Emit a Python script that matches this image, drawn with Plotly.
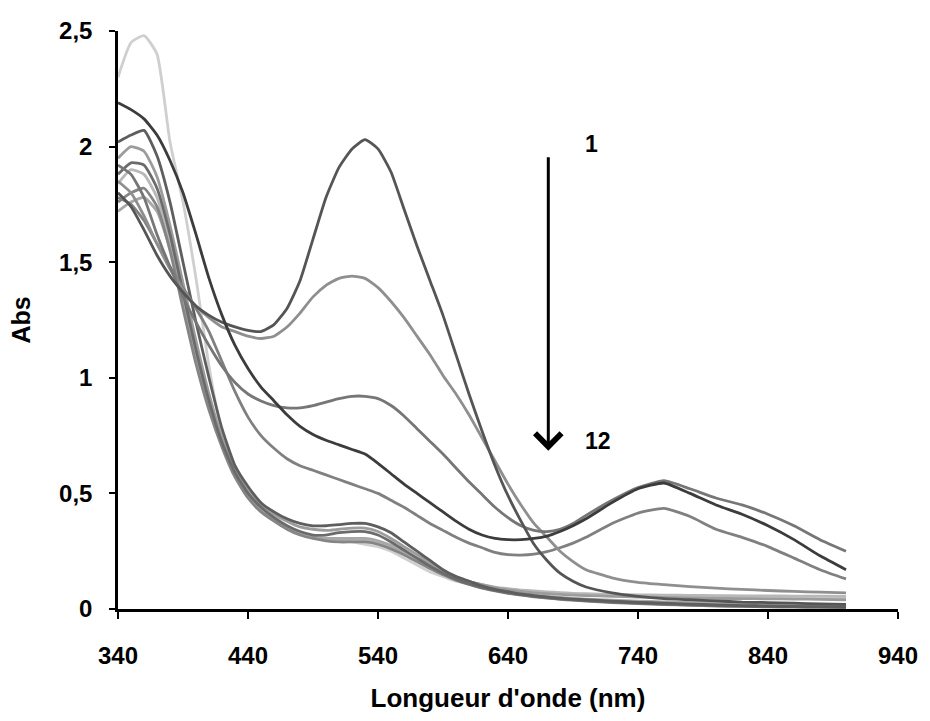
import plotly.graph_objects as go

# Wavelength grid (nm)
wavelength = [340, 350, 360, 370, 380, 390, 400, 410, 420, 430, 440, 450, 460, 470,
              480, 490, 500, 510, 520, 530, 540, 550, 560, 570, 580, 590, 600, 610,
              620, 630, 640, 650, 660, 670, 680, 690, 700, 720, 740, 760, 780, 800,
              820, 840, 860, 880, 900]

# Absorbance spectra, one list per recording
spec_d = [2.19, 2.16, 2.12, 2.05, 1.94, 1.80, 1.62, 1.43, 1.27, 1.14, 1.04, 0.96, 0.90, 0.84,
          0.79, 0.755, 0.73, 0.71, 0.69, 0.67, 0.63, 0.585, 0.54, 0.50, 0.46, 0.42, 0.38, 0.345,
          0.32, 0.305, 0.30, 0.30, 0.305, 0.315, 0.335, 0.36, 0.39, 0.46, 0.52, 0.545, 0.50, 0.45,
          0.41, 0.36, 0.30, 0.23, 0.17]
spec_a = [1.80, 1.74, 1.64, 1.53, 1.44, 1.37, 1.31, 1.27, 1.24, 1.22, 1.205, 1.20, 1.23, 1.30,
          1.42, 1.60, 1.78, 1.91, 1.99, 2.03, 1.99, 1.89, 1.73, 1.57, 1.42, 1.27, 1.10, 0.93,
          0.77, 0.62, 0.49, 0.38, 0.28, 0.21, 0.155, 0.12, 0.095, 0.07, 0.055, 0.045, 0.04, 0.035,
          0.03, 0.028, 0.025, 0.022, 0.02]
spec_b = [1.85, 1.80, 1.70, 1.58, 1.47, 1.38, 1.31, 1.26, 1.22, 1.20, 1.18, 1.17, 1.18, 1.22,
          1.28, 1.35, 1.40, 1.43, 1.44, 1.43, 1.39, 1.33, 1.26, 1.18, 1.10, 1.01, 0.93, 0.84,
          0.74, 0.64, 0.54, 0.45, 0.37, 0.31, 0.25, 0.205, 0.17, 0.135, 0.115, 0.105, 0.097, 0.09,
          0.085, 0.08, 0.076, 0.073, 0.07]
spec_c = [1.92, 1.88, 1.78, 1.62, 1.48, 1.35, 1.24, 1.14, 1.05, 0.98, 0.93, 0.90, 0.88, 0.87,
          0.87, 0.88, 0.895, 0.91, 0.92, 0.92, 0.91, 0.88, 0.835, 0.78, 0.725, 0.67, 0.61, 0.55,
          0.495, 0.44, 0.395, 0.36, 0.34, 0.335, 0.345, 0.37, 0.405, 0.47, 0.525, 0.555, 0.52, 0.48,
          0.45, 0.41, 0.36, 0.30, 0.25]
spec_e = [1.78, 1.75, 1.68, 1.58, 1.48, 1.39, 1.30, 1.20, 1.07, 0.94, 0.83, 0.75, 0.695, 0.65,
          0.62, 0.60, 0.58, 0.56, 0.54, 0.52, 0.50, 0.47, 0.44, 0.405, 0.37, 0.34, 0.31, 0.285,
          0.265, 0.245, 0.235, 0.233, 0.237, 0.248, 0.265, 0.285, 0.31, 0.37, 0.415, 0.435, 0.40, 0.345,
          0.31, 0.27, 0.22, 0.17, 0.13]
spec_l = [2.30, 2.45, 2.48, 2.40, 2.02, 1.76, 1.43, 1.05, 0.76, 0.60, 0.51, 0.45, 0.40, 0.36,
          0.33, 0.31, 0.30, 0.295, 0.29, 0.28, 0.27, 0.25, 0.22, 0.19, 0.16, 0.14, 0.12, 0.11,
          0.10, 0.09, 0.085, 0.08, 0.075, 0.07, 0.068, 0.065, 0.063, 0.06, 0.058, 0.056, 0.055, 0.054,
          0.053, 0.052, 0.051, 0.05, 0.05]
spec_g1 = [2.02, 2.05, 2.07, 1.96, 1.76, 1.50, 1.24, 1.00, 0.78, 0.62, 0.53, 0.46, 0.42, 0.39,
           0.37, 0.36, 0.36, 0.365, 0.37, 0.37, 0.355, 0.33, 0.29, 0.25, 0.21, 0.17, 0.14, 0.12,
           0.10, 0.085, 0.075, 0.065, 0.058, 0.052, 0.047, 0.043, 0.04, 0.034, 0.029, 0.025, 0.021, 0.018,
           0.015, 0.013, 0.011, 0.01, 0.009]
spec_g2 = [1.95, 2.00, 1.98, 1.87, 1.66, 1.41, 1.16, 0.93, 0.74, 0.60, 0.51, 0.45, 0.41, 0.38,
           0.355, 0.345, 0.34, 0.345, 0.35, 0.35, 0.335, 0.305, 0.27, 0.235, 0.20, 0.165, 0.14, 0.12,
           0.105, 0.092, 0.083, 0.076, 0.07, 0.066, 0.063, 0.06, 0.058, 0.055, 0.052, 0.05, 0.048, 0.046,
           0.045, 0.044, 0.043, 0.042, 0.04]
spec_g3 = [1.88, 1.93, 1.92, 1.82, 1.62, 1.37, 1.12, 0.90, 0.72, 0.59, 0.50, 0.44, 0.395, 0.36,
           0.335, 0.32, 0.32, 0.33, 0.335, 0.335, 0.32, 0.29, 0.255, 0.22, 0.185, 0.155, 0.128, 0.108,
           0.092, 0.08, 0.07, 0.062, 0.055, 0.049, 0.044, 0.04, 0.036, 0.03, 0.025, 0.021, 0.018, 0.015,
           0.013, 0.011, 0.01, 0.009, 0.008]
spec_g4 = [1.84, 1.90, 1.88, 1.78, 1.58, 1.34, 1.09, 0.88, 0.71, 0.58, 0.49, 0.43, 0.385, 0.35,
           0.325, 0.31, 0.30, 0.30, 0.30, 0.30, 0.29, 0.27, 0.245, 0.215, 0.185, 0.16, 0.135, 0.118,
           0.105, 0.095, 0.088, 0.082, 0.078, 0.074, 0.071, 0.068, 0.066, 0.063, 0.061, 0.06, 0.059, 0.058,
           0.057, 0.057, 0.056, 0.056, 0.055]
spec_g5 = [1.76, 1.80, 1.82, 1.74, 1.55, 1.30, 1.06, 0.86, 0.70, 0.57, 0.48, 0.42, 0.38, 0.345,
           0.32, 0.305, 0.295, 0.29, 0.29, 0.29, 0.28, 0.26, 0.235, 0.205, 0.175, 0.148, 0.125, 0.106,
           0.09, 0.078, 0.068, 0.06, 0.053, 0.047, 0.042, 0.038, 0.034, 0.028, 0.023, 0.019, 0.016, 0.013,
           0.011, 0.009, 0.008, 0.007, 0.006]
spec_g6 = [1.72, 1.76, 1.78, 1.72, 1.56, 1.33, 1.09, 0.88, 0.71, 0.58, 0.49, 0.43, 0.385, 0.35,
           0.325, 0.31, 0.305, 0.305, 0.305, 0.305, 0.295, 0.275, 0.25, 0.22, 0.19, 0.16, 0.135, 0.115,
           0.098, 0.085, 0.075, 0.067, 0.06, 0.054, 0.05, 0.046, 0.043, 0.038, 0.034, 0.031, 0.028, 0.026,
           0.024, 0.022, 0.021, 0.02, 0.019]

spectra = [spec_l, spec_g4, spec_g6, spec_g2, spec_g5, spec_g3, spec_g1,
           spec_e, spec_b, spec_c, spec_a, spec_d]
line_colors = ["#cfcfcf", "#b8b8b8", "#a8a8a8", "#9c9c9c", "#858585", "#6b6b6b", "#5e5e5e",
               "#808080", "#8f8f8f", "#767676", "#555555", "#3c3c3c"]

x_ticks = [340, 440, 540, 640, 740, 840, 940]
y_ticks = [0, 0.5, 1, 1.5, 2, 2.5]
y_tick_text = ["0", "0,5", "1", "1,5", "2", "2,5"]

FONT = "Liberation Sans, Arial, sans-serif"

fig = go.Figure()
for values, color in zip(spectra, line_colors):
    fig.add_trace(go.Scatter(
        x=wavelength, y=values, mode="lines",
        line=dict(color=color, width=2.8, shape="spline", smoothing=0.5),
        showlegend=False, hoverinfo="skip",
    ))

# Downward arrow showing the evolution from spectrum 1 to spectrum 12
fig.add_annotation(x=671, y=0.685, ax=671, ay=1.96, xref="x", yref="y", axref="x", ayref="y",
                   text="", showarrow=True, arrowhead=4, arrowsize=1.7, arrowwidth=3,
                   arrowcolor="black")
fig.add_annotation(x=704, y=2.01, xref="x", yref="y", text="<b>1</b>", showarrow=False,
                   font=dict(family=FONT, size=23, color="black"))
fig.add_annotation(x=709, y=0.725, xref="x", yref="y", text="<b>12</b>", showarrow=False,
                   font=dict(family=FONT, size=23, color="black"))

fig.update_layout(
    width=930, height=721,
    margin=dict(l=118, r=24, t=31, b=108),
    paper_bgcolor="white", plot_bgcolor="white",
    font=dict(family=FONT, color="black"),
)
fig.update_xaxes(
    range=[340, 940], tickvals=x_ticks, showgrid=False, zeroline=False,
    showline=True, linecolor="black", linewidth=2.5,
    ticks="outside", ticklen=7, tickwidth=2, tickcolor="black",
    ticklabelstandoff=16,
    tickfont=dict(family=FONT, size=24, color="black", weight="bold"),
    title=dict(text="<b>Longueur d'onde (nm)</b>", standoff=22,
               font=dict(family=FONT, size=26, color="black")),
)
fig.update_yaxes(
    range=[0, 2.5], tickvals=y_ticks, ticktext=y_tick_text, showgrid=False, zeroline=False,
    showline=True, linecolor="black", linewidth=2.5,
    ticks="outside", ticklen=6, tickwidth=2, tickcolor="black",
    ticklabelstandoff=12,
    tickfont=dict(family=FONT, size=24, color="black", weight="bold"),
    title=dict(text="<b>Abs</b>", standoff=22,
               font=dict(family=FONT, size=25, color="black")),
)

fig.write_html("out.html")
